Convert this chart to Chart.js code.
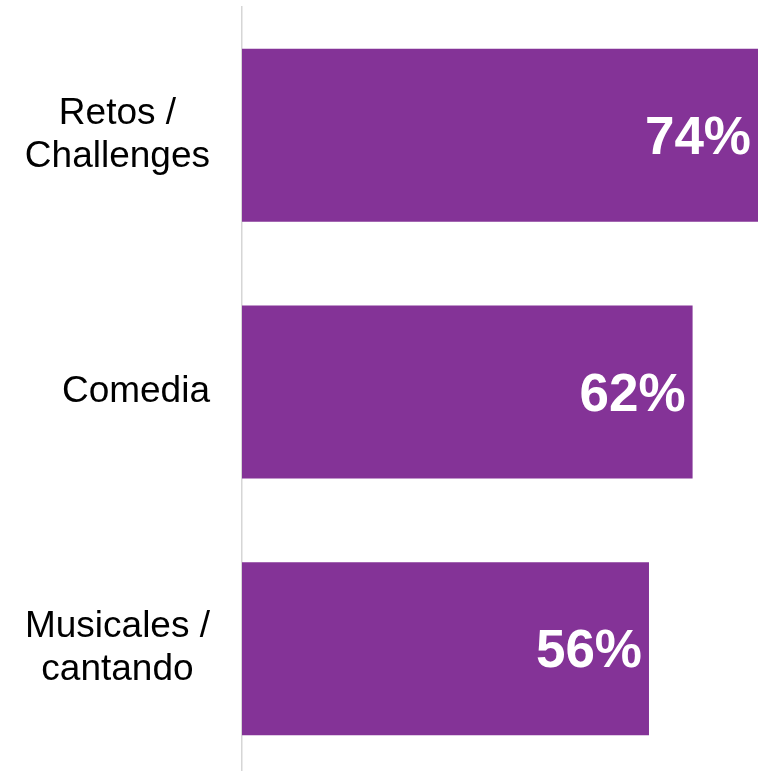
<!DOCTYPE html>
<html>
<head>
  <script src="https://cdn.jsdelivr.net/npm/chart.js"></script>
  <style>
    html, body { margin: 0; padding: 0; background: #fff; overflow: hidden; }
    canvas { display: block; }
  </style>
</head>
<body>
  <canvas id="barChart" width="758" height="777"></canvas>

  <script>
    // Categories (multi-line) and their shares in percent
    var categories = [
      ['Retos /', 'Challenges'],
      ['Comedia'],
      ['Musicales /', 'cantando']
    ];
    var shares = [74, 62, 56];
    var valueLabels = ['74%', '62%', '56%'];

    var barColor = '#843397';
    var labelFont = '37px "Liberation Sans", Arial, sans-serif';
    var labelLine = 43;

    // Category names: each block right-aligned to the axis, lines centred inside it
    var categoryLabels = {
      id: 'categoryLabels',
      afterDraw: function(chart) {
        var ctx = chart.ctx;
        var yScale = chart.scales.y;
        var right = yScale.right - 32;
        ctx.save();
        ctx.fillStyle = '#000000';
        ctx.font = labelFont;
        ctx.textAlign = 'center';
        ctx.textBaseline = 'middle';
        categories.forEach(function(lines, i) {
          var widest = 0;
          lines.forEach(function(t) { widest = Math.max(widest, ctx.measureText(t).width); });
          var cx = right - widest / 2;
          var cy = yScale.getPixelForTick(i);
          var y0 = cy - (lines.length - 1) * labelLine / 2;
          lines.forEach(function(t, k) { ctx.fillText(t, cx, y0 + k * labelLine); });
        });
        ctx.restore();
      }
    };

    // Writes the percentage inside the right end of each bar
    var insideLabels = {
      id: 'insideLabels',
      afterDatasetsDraw: function(chart) {
        var ctx = chart.ctx;
        var area = chart.chartArea;
        var meta = chart.getDatasetMeta(0);
        ctx.save();
        ctx.beginPath();
        ctx.rect(area.left, area.top, area.right - area.left, area.bottom - area.top);
        ctx.clip();
        ctx.fillStyle = '#ffffff';
        ctx.font = 'bold 53px "Liberation Sans", Arial, sans-serif';
        ctx.textAlign = 'right';
        ctx.textBaseline = 'middle';
        meta.data.forEach(function(bar, i) {
          var end = Math.min(bar.x, area.right);
          ctx.fillText(valueLabels[i], end - 7, bar.y + 4);
        });
        ctx.restore();
      }
    };

    var ctx = document.getElementById('barChart').getContext('2d');
    new Chart(ctx, {
      type: 'bar',
      data: {
        labels: categories,
        datasets: [{
          data: shares,
          backgroundColor: barColor,
          borderWidth: 0,
          barPercentage: 0.674,
          categoryPercentage: 1
        }]
      },
      options: {
        indexAxis: 'y',
        responsive: false,
        animation: false,
        layout: { padding: { top: 7, right: 0, bottom: 0, left: 0 } },
        plugins: {
          legend: { display: false },
          tooltip: { enabled: false }
        },
        scales: {
          x: {
            display: false,
            min: 0,
            max: 71
          },
          y: {
            grid: { display: false, drawTicks: false },
            border: { display: true, color: '#d6d6d6', width: 1.5 },
            ticks: { display: false },
            afterFit: function(scale) {
              // fixed label column; no extra room for the end labels
              scale.width = 242;
              scale.paddingTop = 0;
              scale.paddingBottom = 0;
            }
          }
        }
      },
      plugins: [insideLabels, categoryLabels]
    });
  </script>
</body>
</html>
